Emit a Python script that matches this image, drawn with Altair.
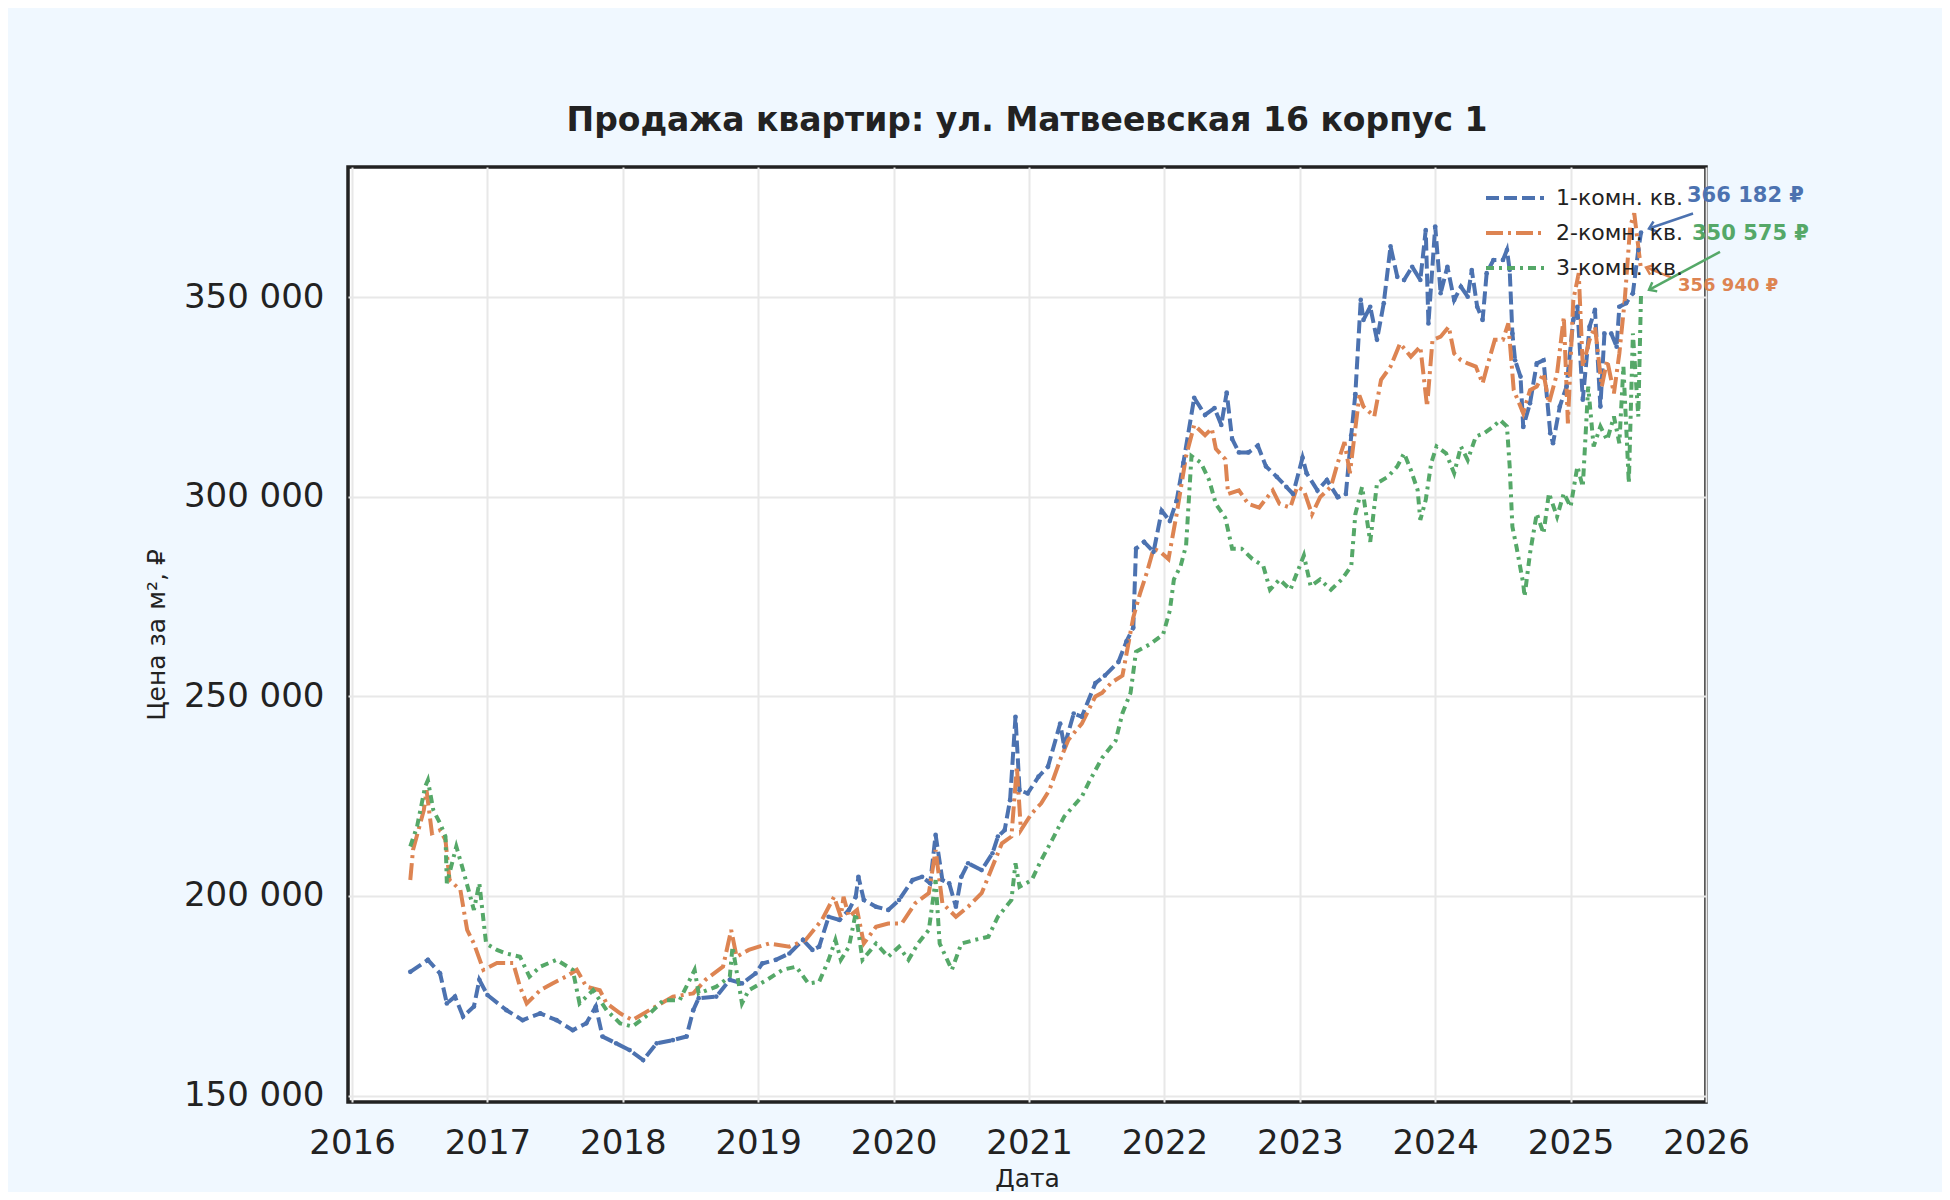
import math
import altair as alt
import pandas as pd

FONT = "DejaVu Sans"

names = ["1-комн. кв.", "2-комн. кв.", "3-комн. кв."]
colors = ["#4c72b0", "#dd8452", "#55a868"]
dashes = [[13, 5], [17, 5, 3, 5], [8, 5, 3, 5]]

# decimal year / price per m2 in thousands of roubles
one_x = [2016.43, 2016.56, 2016.65, 2016.70, 2016.76, 2016.82, 2016.90, 2016.94, 2017.00, 2017.14,
         2017.26, 2017.39, 2017.51, 2017.63, 2017.73, 2017.80, 2017.85, 2017.95, 2018.05, 2018.15,
         2018.25, 2018.37, 2018.47, 2018.52, 2018.56, 2018.69, 2018.79, 2018.88, 2018.98, 2019.03,
         2019.13, 2019.23, 2019.33, 2019.40, 2019.45, 2019.52, 2019.60, 2019.67, 2019.72, 2019.74,
         2019.78, 2019.87, 2019.96, 2020.04, 2020.14, 2020.21, 2020.27, 2020.31, 2020.36, 2020.41,
         2020.46, 2020.50, 2020.55, 2020.65, 2020.73, 2020.77, 2020.82, 2020.86, 2020.90, 2020.93,
         2020.99, 2021.07, 2021.14, 2021.23, 2021.26, 2021.33, 2021.39, 2021.49, 2021.56, 2021.66,
         2021.72, 2021.77, 2021.79, 2021.85, 2021.92, 2021.98, 2022.04, 2022.09, 2022.14, 2022.22,
         2022.30, 2022.37, 2022.42, 2022.46, 2022.50, 2022.55, 2022.62, 2022.69, 2022.75, 2022.83,
         2022.90, 2022.95, 2023.02, 2023.05, 2023.13, 2023.20, 2023.28, 2023.34, 2023.38, 2023.41,
         2023.45, 2023.47, 2023.52, 2023.57, 2023.62, 2023.67, 2023.72, 2023.77, 2023.83, 2023.89,
         2023.93, 2023.95, 2024.00, 2024.04, 2024.09, 2024.14, 2024.19, 2024.24, 2024.27, 2024.31,
         2024.35, 2024.38, 2024.43, 2024.50, 2024.53, 2024.55, 2024.57, 2024.59, 2024.63, 2024.65,
         2024.70, 2024.75, 2024.80, 2024.85, 2024.87, 2024.92, 2024.97, 2025.02, 2025.05, 2025.09,
         2025.14, 2025.18, 2025.22, 2025.25, 2025.30, 2025.34, 2025.36, 2025.41, 2025.46, 2025.50,
         2025.52]
one_k = [181.0, 184.0, 180.6, 173.1, 174.8, 169.8, 172.3, 179.0, 175.2, 171.4,
         168.9, 170.6, 168.9, 166.4, 168.1, 172.3, 164.8, 163.1, 161.4, 158.9,
         163.1, 163.9, 164.8, 171.4, 174.4, 174.8, 179.0, 178.1, 180.6, 183.1,
         184.0, 185.6, 189.0, 186.5, 187.3, 194.8, 194.0, 196.5, 199.8, 204.8,
         199.0, 197.3, 196.5, 199.0, 204.0, 204.8, 203.2, 215.3, 204.0, 203.2,
         197.3, 204.8, 208.2, 206.5, 210.7, 214.9, 216.5, 224.0, 244.9, 226.5,
         225.7, 229.9, 232.4, 243.2, 237.4, 245.7, 244.9, 253.3, 255.2, 258.6,
         263.8, 267.2, 287.0, 288.7, 286.2, 296.5, 293.9, 299.0, 308.5, 324.8,
         320.5, 322.2, 318.0, 326.1, 314.5, 311.1, 311.1, 312.8, 307.6, 305.0,
         302.5, 300.7, 309.8, 305.9, 301.6, 304.2, 299.9, 300.7, 315.4, 325.7,
         349.3, 344.3, 347.6, 339.3, 348.5, 362.7, 355.1, 354.3, 357.6, 354.3,
         366.8, 343.4, 367.7, 351.0, 357.6, 349.3, 352.6, 350.1, 356.8, 347.6,
         344.3, 356.0, 359.3, 359.3, 361.8, 356.8, 340.9, 334.2, 330.1, 317.5,
         323.4, 333.4, 334.2, 315.9, 313.4, 322.6, 327.6, 344.3, 347.6, 324.3,
         342.6, 346.8, 322.6, 340.9, 340.9, 337.6, 347.6, 348.5, 351.0, 361.8,
         366.182]

two_x = [2016.43, 2016.45, 2016.53, 2016.55, 2016.59, 2016.65, 2016.69, 2016.72, 2016.80, 2016.85,
         2016.90, 2016.97, 2017.07, 2017.19, 2017.24, 2017.29, 2017.39, 2017.48, 2017.58, 2017.66,
         2017.73, 2017.83, 2017.88, 2017.98, 2018.07, 2018.20, 2018.37, 2018.52, 2018.61, 2018.74,
         2018.80, 2018.84, 2018.93, 2019.08, 2019.23, 2019.35, 2019.47, 2019.56, 2019.61, 2019.63,
         2019.67, 2019.73, 2019.78, 2019.87, 2019.96, 2020.06, 2020.16, 2020.26, 2020.31, 2020.36,
         2020.46, 2020.55, 2020.65, 2020.73, 2020.80, 2020.87, 2020.91, 2020.94, 2021.02, 2021.09,
         2021.15, 2021.23, 2021.29, 2021.39, 2021.49, 2021.54, 2021.61, 2021.69, 2021.77, 2021.82,
         2021.87, 2021.92, 2021.97, 2022.03, 2022.09, 2022.16, 2022.22, 2022.30, 2022.35, 2022.38,
         2022.45, 2022.47, 2022.55, 2022.62, 2022.70, 2022.80, 2022.85, 2022.93, 2022.98, 2023.03,
         2023.09, 2023.15, 2023.23, 2023.28, 2023.33, 2023.37, 2023.41, 2023.44, 2023.47, 2023.55,
         2023.60, 2023.67, 2023.74, 2023.82, 2023.89, 2023.94, 2023.98, 2024.04, 2024.10, 2024.14,
         2024.19, 2024.24, 2024.30, 2024.35, 2024.39, 2024.44, 2024.50, 2024.54, 2024.58, 2024.62,
         2024.65, 2024.70, 2024.75, 2024.80, 2024.84, 2024.90, 2024.95, 2024.98, 2025.02, 2025.06,
         2025.09, 2025.14, 2025.18, 2025.23, 2025.27, 2025.32, 2025.36, 2025.40, 2025.44, 2025.47,
         2025.52]
two_k = [204.0, 211.5, 221.5, 226.5, 215.7, 216.5, 214.0, 204.0, 201.5, 191.5,
         188.1, 181.5, 183.2, 183.2, 177.3, 173.1, 176.4, 178.1, 179.8, 181.5,
         177.3, 176.4, 173.1, 170.6, 168.9, 171.5, 174.8, 175.6, 179.0, 182.3,
         191.5, 184.8, 186.5, 188.1, 187.3, 189.0, 194.0, 199.8, 194.8, 199.8,
         194.8, 196.5, 188.1, 192.3, 193.1, 193.1, 198.2, 200.7, 211.5, 198.2,
         194.8, 197.3, 200.7, 207.4, 213.2, 214.9, 232.4, 216.5, 220.7, 223.2,
         226.5, 234.1, 239.1, 243.2, 250.0, 250.9, 253.5, 255.2, 269.8, 275.8,
         281.0, 287.0, 286.2, 284.4, 295.6, 310.2, 318.0, 315.4, 317.1, 312.0,
         309.4, 300.7, 301.6, 298.2, 297.3, 301.6, 298.2, 297.3, 302.5, 301.6,
         295.6, 299.9, 302.5, 308.5, 313.7, 305.9, 317.1, 325.4, 322.6, 320.1,
         329.3, 332.6, 338.4, 335.1, 337.6, 322.6, 339.3, 340.1, 342.6, 335.9,
         334.2, 333.4, 332.6, 328.4, 333.4, 339.3, 339.3, 343.4, 326.7, 323.4,
         320.9, 326.7, 327.6, 330.9, 323.4, 330.9, 345.1, 318.4, 349.3, 356.0,
         332.6, 339.3, 342.6, 327.6, 334.2, 325.9, 335.9, 349.3, 367.7, 371.0,
         356.940]

three_x = [2016.43, 2016.48, 2016.54, 2016.56, 2016.60, 2016.65, 2016.69, 2016.70, 2016.77, 2016.82,
           2016.90, 2016.94, 2016.99, 2017.07, 2017.14, 2017.24, 2017.31, 2017.39, 2017.51, 2017.63,
           2017.68, 2017.78, 2017.88, 2017.98, 2018.07, 2018.20, 2018.30, 2018.42, 2018.53, 2018.56,
           2018.69, 2018.79, 2018.81, 2018.88, 2018.93, 2019.06, 2019.18, 2019.28, 2019.37, 2019.45,
           2019.52, 2019.57, 2019.61, 2019.67, 2019.72, 2019.77, 2019.87, 2019.96, 2020.04, 2020.11,
           2020.18, 2020.26, 2020.31, 2020.34, 2020.43, 2020.50, 2020.60, 2020.70, 2020.77, 2020.87,
           2020.90, 2020.93, 2021.02, 2021.09, 2021.17, 2021.26, 2021.39, 2021.45, 2021.54, 2021.64,
           2021.69, 2021.75, 2021.79, 2021.89, 2021.99, 2022.04, 2022.07, 2022.12, 2022.16, 2022.20,
           2022.27, 2022.33, 2022.38, 2022.45, 2022.50, 2022.57, 2022.65, 2022.73, 2022.78, 2022.85,
           2022.93, 2023.03, 2023.08, 2023.15, 2023.23, 2023.31, 2023.38, 2023.41, 2023.46, 2023.52,
           2023.57, 2023.65, 2023.72, 2023.77, 2023.82, 2023.87, 2023.89, 2023.93, 2023.97, 2024.01,
           2024.08, 2024.14, 2024.19, 2024.24, 2024.30, 2024.36, 2024.43, 2024.48, 2024.53, 2024.55,
           2024.57, 2024.60, 2024.65, 2024.66, 2024.70, 2024.75, 2024.80, 2024.84, 2024.90, 2024.95,
           2025.00, 2025.05, 2025.09, 2025.13, 2025.17, 2025.22, 2025.27, 2025.32, 2025.36, 2025.39,
           2025.43, 2025.46, 2025.50, 2025.52]
three_k = [212.4, 217.4, 227.4, 229.0, 221.5, 218.2, 214.9, 203.2, 212.4, 206.5,
           196.5, 203.2, 188.1, 186.5, 185.6, 184.8, 179.8, 182.3, 184.0, 181.5,
           173.1, 176.4, 171.4, 168.1, 167.3, 170.6, 173.9, 173.9, 181.5, 175.6,
           177.3, 179.8, 187.3, 173.1, 176.4, 178.9, 181.5, 182.3, 178.1, 178.5,
           184.0, 189.0, 184.0, 187.3, 195.7, 184.0, 188.1, 184.8, 187.3, 184.0,
           188.1, 191.5, 204.0, 188.1, 181.5, 188.1, 189.0, 189.8, 194.8, 199.0,
           208.2, 202.3, 204.0, 209.0, 214.0, 219.9, 224.9, 229.0, 234.6, 238.9,
           245.8, 250.9, 261.2, 263.0, 265.5, 271.5, 279.3, 282.7, 287.8, 310.2,
           308.5, 304.2, 298.2, 294.7, 287.0, 287.0, 284.4, 282.7, 276.7, 279.3,
           276.7, 285.3, 277.6, 279.3, 276.7, 279.3, 282.7, 295.6, 302.5, 288.7,
           303.4, 305.0, 307.6, 310.9, 306.7, 301.7, 294.2, 299.2, 308.4, 312.6,
           310.9, 305.9, 312.6, 309.2, 315.1, 315.9, 317.6, 319.2, 317.6, 307.6,
           292.5, 287.5, 278.3, 275.0, 285.8, 295.8, 290.8, 300.9, 295.0, 300.9,
           297.5, 307.6, 302.5, 327.6, 312.6, 317.6, 314.2, 320.1, 313.4, 332.6,
           303.4, 340.9, 320.1, 350.575]

year_ticks = list(range(2016, 2027))
price_ticks = [150000, 200000, 250000, 300000, 350000]

# label offsets from the last point, in screen pixels: text, arrow tail, arrow head
text_off = [(46, -37), (37, 17), (51, -61)]
tail_off = [(52, -19), (30, 8), (79, -43)]
head_off = [(8, -4), (5, -2), (8, -5)]
label_size = [21, 18, 21]

W, H = 1358, 935
x_dom = [2015.97, 2026.0]
y_dom = [148400, 382600]
px_x = W / (x_dom[1] - x_dom[0])
px_y = H / (y_dom[1] - y_dom[0])

xs = [one_x, two_x, three_x]
ks = [one_k, two_k, three_k]
rows = []
for name, sx, sk in zip(names, xs, ks):
    for a, b in zip(sx, sk):
        rows.append({"series": name, "x": a, "y": b * 1000})
df = pd.DataFrame(rows)

X = alt.X("x:Q", scale=alt.Scale(domain=x_dom, nice=False, zero=False),
          axis=alt.Axis(values=year_ticks, format="d", title="Дата", labelFlush=False,
                        labelOverlap=False))
Y = alt.Y("y:Q", scale=alt.Scale(domain=y_dom, nice=False, zero=False),
          axis=alt.Axis(values=price_ticks, title="Цена за м², ₽",
                        labelExpr="replace(format(datum.value, ',d'), ',', ' ')"))

legend = alt.Legend(title=None, orient="none", legendX=1136, legendY=18,
                    symbolType="stroke", symbolSize=3364, symbolStrokeWidth=4,
                    labelFontSize=22, labelFont=FONT, labelColor="#222222",
                    clipHeight=26, rowPadding=9, labelOffset=10)

lines = alt.Chart(df).mark_line(strokeWidth=4).encode(
    x=X, y=Y,
    color=alt.Color("series:N", scale=alt.Scale(domain=names, range=colors), legend=legend),
    strokeDash=alt.StrokeDash("series:N", scale=alt.Scale(domain=names, range=dashes), legend=legend),
)
dots = alt.Chart(df[df.series == names[0]]).mark_circle(size=22, opacity=1, color=colors[0]).encode(x=X, y=Y)

layers = [lines, dots]
for i, name in enumerate(names):
    lx, ly = xs[i][-1], ks[i][-1] * 1000
    label = f"{int(round(ly)):,}".replace(",", " ") + " ₽"
    tx, ty = text_off[i]
    ax, ay = tail_off[i]
    hx, hy = head_off[i]
    ang = math.degrees(math.atan2(hx - ax, -(hy - ay))) % 360
    ann = pd.DataFrame([{
        "x": lx + hx / px_x, "y": ly - hy / px_y,
        "x2": lx + ax / px_x, "y2": ly - ay / px_y,
        "tx": lx + tx / px_x, "ty": ly - ty / px_y,
        "label": label, "ang": ang,
    }])
    layers.append(alt.Chart(ann).mark_rule(color=colors[i], strokeWidth=2.5).encode(
        x=X, y=Y, x2="x2:Q", y2="y2:Q"))
    layers.append(alt.Chart(ann).mark_point(
        shape="M-0.8,1L0,0L0.8,1", filled=False, size=170, color=colors[i],
        strokeWidth=2.5, opacity=1).encode(x=X, y=Y, angle=alt.Angle("ang:Q", scale=None)))
    layers.append(alt.Chart(ann).mark_text(
        align="left", baseline="middle", fontWeight="bold", font=FONT,
        fontSize=label_size[i], color=colors[i]).encode(
        x=alt.X("tx:Q", scale=alt.Scale(domain=x_dom, nice=False, zero=False)),
        y=alt.Y("ty:Q", scale=alt.Scale(domain=y_dom, nice=False, zero=False)),
        text="label:N"))

chart = alt.layer(*layers).properties(
    width=W, height=H,
    autosize=alt.AutoSizeParams(type="none"),
    padding={"left": 340, "top": 159, "right": 236, "bottom": 90},
    title=alt.TitleParams("Продажа квартир: ул. Матвеевская 16 корпус 1", font=FONT,
                          fontSize=33, fontWeight="bold", color="#222222",
                          anchor="middle", offset=29),
).configure(background="#f0f8ff").configure_view(
    stroke="#222222", strokeWidth=3.5, fill="#ffffff"
).configure_axis(
    labelFont=FONT, labelFontSize=34, labelColor="#222222", titleFont=FONT,
    titleFontSize=25, titleFontWeight="normal", titleColor="#222222",
    grid=True, gridColor="#e8e8e8", gridWidth=2, tickSize=0, domain=False,
    labelPadding=24,
).configure_axisX(titlePadding=6).configure_axisY(titlePadding=14)

chart.save("out.html", embed_options={"renderer": "svg", "actions": False})
